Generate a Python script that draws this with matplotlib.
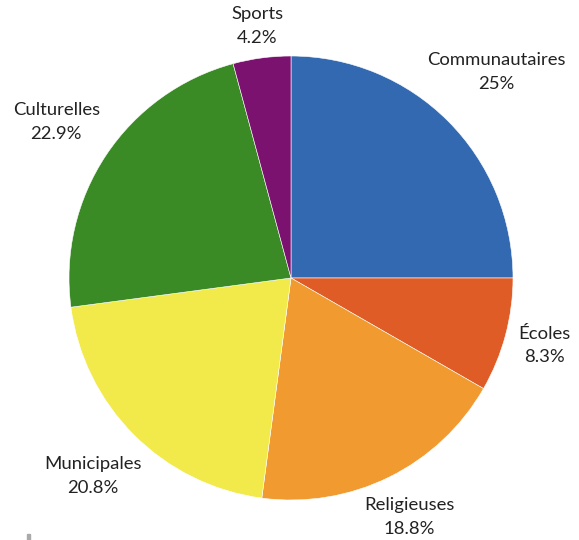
import matplotlib.pyplot as plt
import numpy as np

labels = ['Communautaires', 'Écoles', 'Religieuses', 'Municipales', 'Culturelles', 'Sports']
pct = [25, 8.3, 18.8, 20.8, 22.9, 4.2]
pct_txt = ['25%', '8.3%', '18.8%', '20.8%', '22.9%', '4.2%']
colors = ['#3369B0', '#E05C27', '#F09A30', '#F2E94B', '#3A8A25', '#7B1270']
label_dist = [1.31, 1.18, 1.20, 1.26, 1.27, 1.145]

plt.rcParams['font.family'] = ['Lato', 'DejaVu Sans']

fig = plt.figure(figsize=(5.79, 5.40), dpi=100)
ax = fig.add_axes([0, 0, 1, 1])
R = 222.0

wedges, _ = ax.pie(pct, colors=colors, startangle=90, counterclock=False,
                   radius=1, center=(0, 0), frame=False,
                   wedgeprops=dict(edgecolor='white', linewidth=0.4))
ax.set_xlim(-291 / R, (579 - 291) / R)
ax.set_ylim(-(540 - 278) / R, 278 / R)
ax.set_aspect('equal')
ax.axis('off')

for w, lab, t, d in zip(wedges, labels, pct_txt, label_dist):
    ang = np.deg2rad((w.theta1 + w.theta2) / 2)
    ax.text(d * np.cos(ang), d * np.sin(ang), lab + '\n' + t,
            ha='center', va='center', fontsize=13.3, color='#222222',
            linespacing=1.6)

# small grey mark in the lower left corner
fig.patches.append(plt.Rectangle((27 / 579, 0), 3 / 579, 6 / 540,
                                 transform=fig.transFigure, color='#aaaaaa'))

fig.savefig('out.png', dpi=100)
